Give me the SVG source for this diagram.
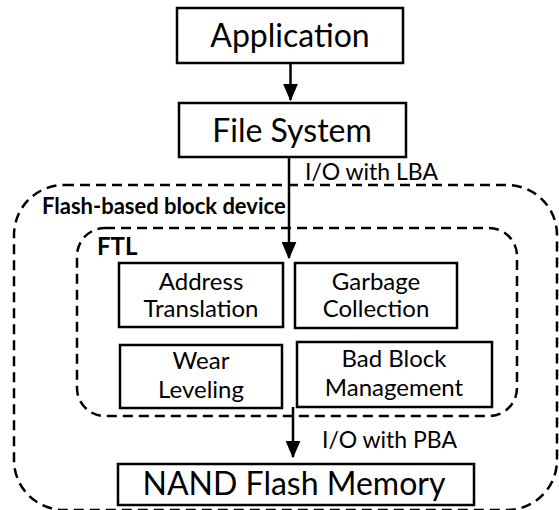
<svg xmlns="http://www.w3.org/2000/svg" width="559" height="510" viewBox="0 0 559 510">
<style>
.box{fill:#fff;stroke:#000;stroke-width:2.5}
.dash{fill:none;stroke:#000;stroke-width:2.5;stroke-dasharray:10 6}
.big{font-family:Lato,"Liberation Sans",sans-serif;font-size:32px;text-anchor:middle}
.mid{font-family:Lato,"Liberation Sans",sans-serif;font-size:24px;text-anchor:middle}
.lbl{font-family:Lato,"Liberation Sans",sans-serif;font-size:23px}
.bold{font-family:Lato,"Liberation Sans",sans-serif;font-weight:bold}
.line{stroke:#000;stroke-width:2.5;fill:none}
</style>
<defs>
<marker id="ah" markerWidth="7" markerHeight="6" refX="6.5" refY="3" orient="auto" markerUnits="strokeWidth">
<path d="M0,0 L7,3 L0,6 Z" fill="#000"/>
</marker>
</defs>
<g id="flash-device">
<rect class="dash" x="14" y="185" width="543" height="325" rx="50" ry="50"/>
<text class="bold" x="42" y="214" font-size="22">Flash-based block device</text>
</g>
<g id="ftl">
<rect class="dash" x="77" y="228" width="440" height="188" rx="28" ry="28"/>
<text class="bold" x="97" y="255" font-size="24">FTL</text>
</g>
<g id="application">
<rect class="box" x="177" y="8" width="226" height="55"/>
<text class="big" x="290" y="47">Application</text>
</g>
<g id="file-system">
<rect class="box" x="179" y="103" width="227" height="54"/>
<text class="big" x="292" y="142">File System</text>
</g>
<g id="address-translation">
<rect class="box" x="119" y="263" width="164" height="64"/>
<text class="mid" x="201" y="290">Address</text>
<text class="mid" x="201" y="317">Translation</text>
</g>
<g id="garbage-collection">
<rect class="box" x="295" y="263" width="162" height="65"/>
<text class="mid" x="376" y="290">Garbage</text>
<text class="mid" x="376" y="317">Collection</text>
</g>
<g id="wear-leveling">
<rect class="box" x="120" y="345" width="162" height="63"/>
<text class="mid" x="201" y="369">Wear</text>
<text class="mid" x="201" y="398">Leveling</text>
</g>
<g id="bad-block-management">
<rect class="box" x="297" y="342" width="195" height="65"/>
<text class="mid" x="394" y="367">Bad Block</text>
<text class="mid" x="394" y="396">Management</text>
</g>
<g id="nand">
<rect class="box" x="118" y="464" width="356" height="41"/>
<text class="big" x="294" y="495">NAND Flash Memory</text>
</g>
<g id="connectors">
<line class="line" x1="290.5" y1="63" x2="290.5" y2="100" marker-end="url(#ah)"/>
<line class="line" x1="289" y1="157" x2="289" y2="258" marker-end="url(#ah)"/>
<line class="line" x1="293" y1="407" x2="293" y2="457" marker-end="url(#ah)"/>
<text class="lbl" x="305" y="180">I/O with LBA</text>
<text class="lbl" x="322" y="448">I/O with PBA</text>
</g>
</svg>
